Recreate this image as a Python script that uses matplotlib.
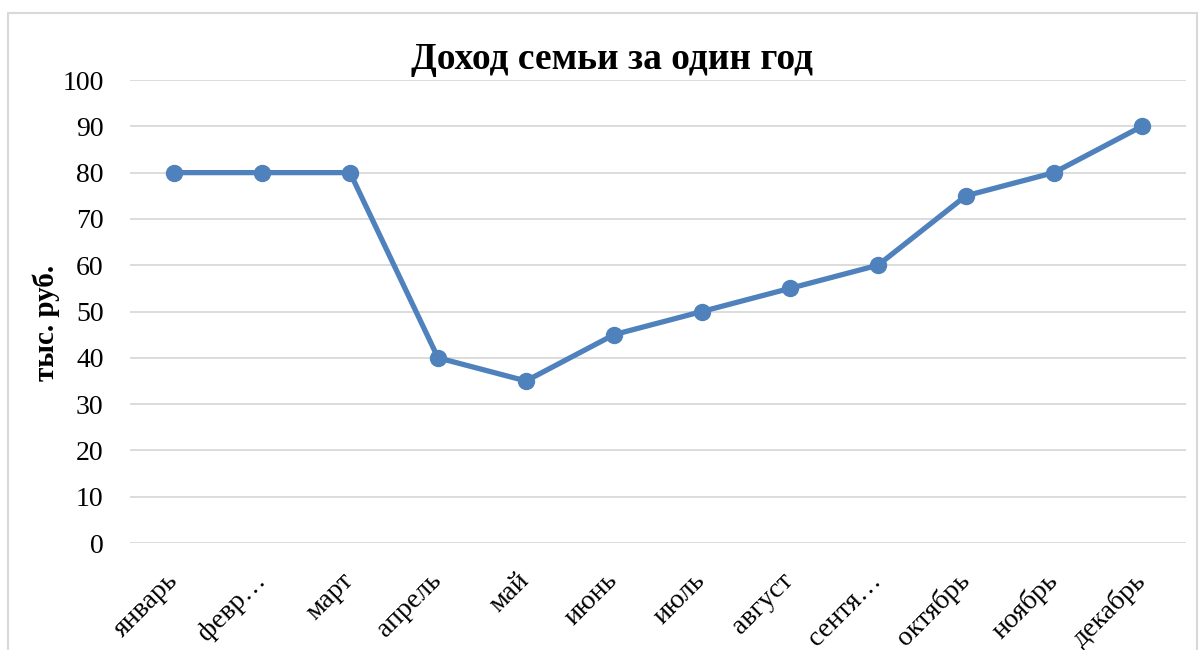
import matplotlib.pyplot as plt
from matplotlib.patches import Rectangle
from matplotlib.transforms import ScaledTranslation

#Chart data
months = ['январь', 'февр…', 'март', 'апрель', 'май', 'июнь', 'июль',
          'август', 'сентя…', 'октябрь', 'ноябрь', 'декабрь']
income = [80, 80, 80, 40, 35, 45, 50, 55, 60, 75, 80, 90]
y_ticks = [0, 10, 20, 30, 40, 50, 60, 70, 80, 90, 100]

plt.rcParams['font.family'] = ['Liberation Serif', 'DejaVu Serif']

fig = plt.figure(figsize=(12.04, 6.5), dpi=100)
ax = fig.add_axes([0.108, 0.1646, 0.877, 0.7123])

x = list(range(len(months)))
ax.plot(x, income, color='#4F81BD', linewidth=3.8, marker='o',
        markersize=11.5, solid_capstyle='round', zorder=3)

ax.set_xlim(-0.5, len(months) - 0.5)
ax.set_ylim(0, 100)
ax.set_yticks(y_ticks)
ax.set_xticks(x)
ax.set_xticklabels(months, rotation=45, ha='right', rotation_mode='anchor',
                   fontsize=20)
ax.tick_params(axis='y', labelsize=20, length=0, pad=19)
ax.tick_params(axis='x', length=0, pad=10)

#Shift month labels a bit (left and down)
shift = ScaledTranslation(-9 / 100, -11 / 100, fig.dpi_scale_trans)
for lbl in ax.get_xticklabels():
    lbl.set_transform(lbl.get_transform() + shift)

ax.grid(axis='y', color='#D9D9D9', linewidth=1.3)
ax.set_axisbelow(True)
for s in ax.spines.values():
    s.set_visible(False)

ax.set_ylabel('тыс. руб.', fontsize=21, fontweight='bold')
ax.yaxis.set_label_coords(-0.0663, 0.475)
ax.set_title('Доход семьи за один год', fontsize=27, fontweight='bold',
             pad=8, x=0.4564)

#Outer border of the chart
fig.patches.append(Rectangle((8 / 1204, -0.1), 1189 / 1204, 1 - 13 / 650 + 0.1,
                             transform=fig.transFigure, fill=False,
                             edgecolor='#D9D9D9', linewidth=1.5))

fig.savefig('out.png', dpi=100)
